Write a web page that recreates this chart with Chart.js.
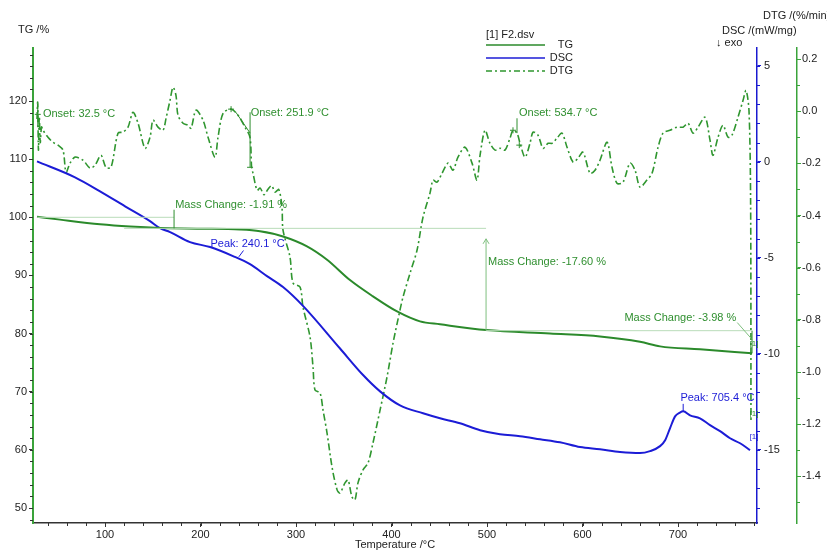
<!DOCTYPE html>
<html>
<head>
<meta charset="utf-8">
<script src="https://cdn.jsdelivr.net/npm/chart.js@4.4.1/dist/chart.umd.min.js"></script>
<style>
  html, body { margin: 0; padding: 0; background: #ffffff; }
  #wrap { width: 827px; height: 551px; }
</style>
</head>
<body>
<div id="wrap"><canvas id="c" width="827" height="551"></canvas></div>
<script>
// ---- Thermal analysis of sample F2 (TG / DSC / DTG against temperature) ----

// TG: mass in %
const tgTemp = [28.8, 52.9, 94.8, 126.2, 157.6, 199.5, 241.4, 262.3, 286.4, 311.5, 332.5, 356.5, 380.6, 405.8, 429.8, 450.8, 499.0, 566.0, 618.3, 660.2, 681.2, 723.0, 777.5];
const tgMass = [100.1, 99.6, 98.8, 98.4, 98.15, 98.05, 97.9, 97.6, 96.7, 95.0, 92.7, 89.2, 86.4, 83.8, 82.1, 81.6, 80.6, 80.0, 79.5, 78.6, 77.8, 77.3, 76.6];

// DSC: heat flow in mW/mg
const dscTemp = [28.8, 68.6, 94.8, 121.0, 147.1, 157.6, 168.1, 189.0, 210.0, 234.0, 251.8, 269.6, 286.4, 307.3, 346.1, 370.2, 388.0, 408.9, 433.0, 450.8, 471.7, 492.7, 513.6, 534.6, 555.5, 576.4, 597.4, 618.3, 639.3, 660.2, 670.7, 681.2, 686.5, 691.6, 696.9, 702.0, 705.4, 712.6, 723.0, 733.5, 744.0, 754.5, 765.0, 775.4];
const dscFlow = [0.02, -0.81, -1.54, -2.32, -3.09, -3.46, -3.66, -4.18, -4.44, -4.91, -5.33, -5.95, -6.52, -7.50, -9.72, -11.10, -11.95, -12.68, -13.09, -13.35, -13.61, -13.97, -14.18, -14.28, -14.44, -14.60, -14.85, -14.96, -15.10, -15.16, -15.06, -14.80, -14.49, -13.87, -13.25, -13.05, -12.99, -13.20, -13.35, -13.71, -14.02, -14.39, -14.65, -15.01];

// DTG: mass-loss rate in %/min
const dtgTemp = [28.8, 29.5, 30.3, 31.2, 32.2, 33.5, 35.1, 40.3, 45.5, 50.8, 56.0, 59.2, 63.4, 68.6, 77.0, 84.3, 89.5, 95.8, 101.0, 106.3, 113.6, 118.8, 124.1, 129.3, 134.6, 141.9, 147.1, 150.3, 155.5, 160.7, 163.9, 168.1, 171.2, 174.3, 176.4, 181.7, 186.9, 190.1, 195.3, 202.6, 207.9, 215.2, 218.3, 223.6, 231.9, 239.3, 246.6, 251.8, 253.5, 255.0, 259.2, 262.5, 266.5, 270.5, 274.5, 278.0, 282.0, 285.3, 286.4, 293.7, 296.9, 304.2, 307.3, 314.7, 317.8, 319.9, 325.1, 328.3, 332.5, 337.7, 343.0, 346.1, 351.3, 354.5, 358.6, 361.8, 364.9, 370.2, 375.4, 380.6, 388.0, 395.3, 401.6, 408.9, 412.0, 419.4, 426.7, 433.0, 440.3, 443.5, 447.6, 452.9, 459.2, 464.4, 469.6, 477.0, 484.3, 489.5, 492.7, 497.9, 503.1, 508.4, 513.6, 518.8, 524.1, 527.2, 531.4, 534.6, 539.8, 545.0, 548.2, 553.4, 558.7, 563.9, 568.1, 573.3, 578.5, 583.8, 590.1, 595.3, 600.5, 607.9, 613.1, 618.3, 625.7, 630.9, 636.1, 642.4, 649.7, 655.0, 660.2, 667.5, 672.8, 679.1, 684.3, 691.6, 699.0, 705.3, 710.5, 715.7, 721.0, 728.3, 733.5, 736.6, 741.9, 747.1, 752.4, 756.5, 762.8, 768.1, 771.2, 774.3, 776.0, 776.4];
const dtgRate = [-0.03, 0.034, -0.149, -0.02, -0.12, -0.06, -0.073, -0.100, -0.119, -0.130, -0.149, -0.234, -0.199, -0.176, -0.188, -0.218, -0.207, -0.169, -0.215, -0.215, -0.084, -0.080, -0.061, -0.004, -0.046, -0.142, -0.100, -0.034, -0.061, -0.073, -0.027, 0.042, 0.092, 0.061, -0.015, -0.046, -0.054, -0.065, 0.004, -0.034, -0.100, -0.176, -0.100, -0.008, 0.008, -0.015, -0.061, -0.100, -0.215, -0.238, -0.303, -0.295, -0.320, -0.300, -0.285, -0.310, -0.300, -0.368, -0.456, -0.559, -0.659, -0.674, -0.751, -0.866, -0.981, -1.069, -1.080, -1.146, -1.234, -1.364, -1.452, -1.464, -1.425, -1.414, -1.479, -1.490, -1.425, -1.375, -1.349, -1.272, -1.146, -1.019, -0.889, -0.762, -0.713, -0.621, -0.533, -0.406, -0.314, -0.264, -0.272, -0.238, -0.199, -0.226, -0.176, -0.138, -0.199, -0.264, -0.169, -0.073, -0.123, -0.149, -0.142, -0.149, -0.103, -0.073, -0.084, -0.123, -0.176, -0.123, -0.080, -0.092, -0.142, -0.123, -0.123, -0.103, -0.084, -0.138, -0.195, -0.180, -0.157, -0.238, -0.226, -0.188, -0.119, -0.215, -0.276, -0.272, -0.199, -0.226, -0.291, -0.264, -0.238, -0.138, -0.084, -0.073, -0.061, -0.061, -0.046, -0.084, -0.061, -0.023, -0.111, -0.169, -0.100, -0.054, -0.100, -0.092, -0.023, 0.042, 0.080, 0.004, -0.341, -1.192];

// Axis tick labels
const tempTicks = [100, 200, 300, 400, 500, 600, 700];
const tgTicks = [50, 60, 70, 80, 90, 100, 110, 120];
const dscTicks = [5, 0, -5, -10, -15];
const dtgTicks = [0.2, 0.0, -0.2, -0.4, -0.6, -0.8, -1.0, -1.2, -1.4];

// Evaluated steps reported by the analysis software
const onsetTemps = [32.5, 251.9, 534.7];
const peakTemps = [240.1, 705.4];
const massChanges = [-1.91, -17.60, -3.98];

const FONT = '"Liberation Sans", Arial, Helvetica, sans-serif';
const TG_GREEN = '#2b8a2b';
const DTG_GREEN = '#2f962f';
const AX_GREEN = '#3aa33a';
const BLUE = '#1c1cd6';
const AX_BLUE = '#1a1ad0';
const NOTE_GREEN = '#2f8f2f';
const FAINT = '#b9dcb9';

const pts = (xs, ys) => xs.map((t, i) => ({ x: t, y: ys[i] }));

function fixTicks(values) {
  return s => { s.ticks = values.map(v => ({ value: v })); };
}

// minor tick marks between the labelled ones
function minorTicks(ctx, scale, step, len, color, side) {
  const lo = Math.ceil(scale.min / step - 1e-9);
  const hi = Math.floor(scale.max / step + 1e-9);
  ctx.strokeStyle = color;
  ctx.lineWidth = 1;
  ctx.beginPath();
  for (let k = lo; k <= hi; k++) {
    const p = Math.round(scale.getPixelForValue(k * step)) + 0.5;
    if (side === 'left') { ctx.moveTo(scale.right, p); ctx.lineTo(scale.right - len, p); }
    else if (side === 'right') { ctx.moveTo(scale.left, p); ctx.lineTo(scale.left + len, p); }
    else { ctx.moveTo(p, scale.top); ctx.lineTo(p, scale.top + len); }
  }
  ctx.stroke();
}

function plus(ctx, x, y, r) {
  ctx.beginPath();
  ctx.moveTo(x - r, y); ctx.lineTo(x + r, y);
  ctx.moveTo(x, y - r); ctx.lineTo(x, y + r);
  ctx.stroke();
}

function line(ctx, x1, y1, x2, y2) {
  ctx.beginPath(); ctx.moveTo(x1, y1); ctx.lineTo(x2, y2); ctx.stroke();
}

const decor = {
  id: 'decor',
  afterDraw(chart) {
    const { ctx } = chart;
    const { x, y, y1, y2 } = chart.scales;
    const X = t => x.getPixelForValue(t);
    const TG = v => y.getPixelForValue(v);
    const DSC = v => y1.getPixelForValue(v);
    const DTG = v => y2.getPixelForValue(v);
    ctx.save();

    // minor ticks
    minorTicks(ctx, x, 20, 3, '#333', 'bottom');
    minorTicks(ctx, y, 2, 3, '#333', 'left');
    minorTicks(ctx, y1, 1, 3, AX_BLUE, 'right');
    minorTicks(ctx, y2, 0.1, 3, AX_GREEN, 'right');

    // axis titles
    ctx.font = '11px ' + FONT;
    ctx.fillStyle = '#222';
    ctx.textBaseline = 'middle';
    ctx.textAlign = 'left';
    ctx.fillText('TG /%', 18, 30);
    ctx.fillText('DTG /(%/min)', 763, 16);
    ctx.fillText('DSC /(mW/mg)', 722, 31);
    ctx.fillText('\u2193 exo', 716, 43);
    ctx.textAlign = 'center';
    ctx.fillText('Temperature /\u00B0C', (x.left + x.right) / 2, 545);

    // legend
    ctx.textAlign = 'left';
    ctx.fillText('[1] F2.dsv', 486, 35);
    ctx.textAlign = 'right';
    const legend = [['TG', TG_GREEN, []], ['DSC', BLUE, []], ['DTG', DTG_GREEN, [6, 3, 2, 3]]];
    legend.forEach(([name, col, dash], i) => {
      const ly = 45 + i * 13;
      ctx.strokeStyle = col; ctx.lineWidth = 1.5; ctx.setLineDash(dash);
      line(ctx, 486, ly, 545, ly);
      ctx.setLineDash([]);
      ctx.fillStyle = '#222';
      ctx.fillText(name, 573, ly);
    });

    // faint reference levels of the mass steps
    ctx.strokeStyle = FAINT; ctx.lineWidth = 1;
    line(ctx, X(29), TG(100.0), X(172.3), TG(100.0));
    line(ctx, X(120), TG(98.1), X(499), TG(98.1));
    line(ctx, X(499), TG(80.5), X(777), TG(80.5));

    // mass change annotations
    ctx.fillStyle = NOTE_GREEN; ctx.strokeStyle = NOTE_GREEN; ctx.lineWidth = 1;
    ctx.textAlign = 'left';
    ctx.fillText('Mass Change: ' + massChanges[0].toFixed(2) + ' %', X(173.5), TG(102.2));
    line(ctx, X(172.3), TG(98.1), X(172.3), TG(101.3));

    ctx.strokeStyle = '#7fbf7f';
    line(ctx, X(499), TG(96.3), X(499), TG(80.5));
    ctx.beginPath();
    ctx.moveTo(X(499) - 3, TG(96.3) + 5); ctx.lineTo(X(499), TG(96.3)); ctx.lineTo(X(499) + 3, TG(96.3) + 5);
    ctx.stroke();
    ctx.fillText('Mass Change: ' + massChanges[1].toFixed(2) + ' %', X(501), TG(92.4));

    ctx.textAlign = 'right';
    ctx.fillText('Mass Change: ' + massChanges[2].toFixed(2) + ' %', X(761), TG(82.6));
    line(ctx, X(762), TG(81.9), X(777.5), TG(79.0));
    ctx.strokeStyle = NOTE_GREEN;
    line(ctx, X(777.5), TG(80.5), X(777.5), TG(76.6));

    // onset annotations on the DTG curve
    ctx.textAlign = 'left';
    ctx.strokeStyle = NOTE_GREEN; ctx.fillStyle = NOTE_GREEN;
    ctx.fillText('Onset: ' + onsetTemps[0].toFixed(1) + ' \u00B0C', X(35), DTG(-0.012));
    line(ctx, X(29.6), DTG(0.03), X(29.6), DTG(-0.06));
    plus(ctx, X(29.6), DTG(-0.012), 3);

    ctx.fillText('Onset: ' + onsetTemps[1].toFixed(1) + ' \u00B0C', X(252.5), DTG(-0.008));
    plus(ctx, X(232), DTG(0.008), 3);
    line(ctx, X(237), DTG(-0.004), X(252), DTG(-0.084));
    line(ctx, X(251.9), DTG(-0.004), X(251.9), DTG(-0.215));
    line(ctx, X(251.9) - 3, DTG(-0.215), X(251.9) + 3, DTG(-0.215));

    ctx.fillText('Onset: ' + onsetTemps[2].toFixed(1) + ' \u00B0C', X(533.5), DTG(-0.008));
    line(ctx, X(531.4), DTG(-0.027), X(531.4), DTG(-0.084));
    plus(ctx, X(527.2), DTG(-0.073), 3);
    plus(ctx, X(533.8), DTG(-0.13), 3);

    // DSC peak annotations
    ctx.fillStyle = BLUE; ctx.strokeStyle = BLUE;
    ctx.fillText('Peak: ' + peakTemps[0].toFixed(1) + ' \u00B0C', X(210.5), DSC(-4.3));
    line(ctx, X(240.1), DSC(-4.95), X(245), DSC(-4.62));
    ctx.fillText('Peak: ' + peakTemps[1].toFixed(1) + ' \u00B0C', X(702.5), DSC(-12.3));
    line(ctx, X(705.4), DSC(-12.6), X(705.4), DSC(-12.99));

    // curve tags at the end of each trace
    ctx.font = '8px ' + FONT;
    ctx.fillStyle = NOTE_GREEN;
    ctx.fillText('[1]', X(775), TG(78.2));
    ctx.fillText('[1]', X(775), DTG(-1.16));
    ctx.fillStyle = BLUE;
    ctx.fillText('[1]', X(775), DSC(-14.3));

    ctx.restore();
  }
};

new Chart(document.getElementById('c'), {
  type: 'line',
  data: {
    datasets: [
      { label: 'TG', data: pts(tgTemp, tgMass), yAxisID: 'y', borderColor: TG_GREEN, borderWidth: 2, pointRadius: 0, cubicInterpolationMode: 'monotone', fill: false },
      { label: 'DSC', data: pts(dscTemp, dscFlow), yAxisID: 'y1', borderColor: BLUE, borderWidth: 2, pointRadius: 0, cubicInterpolationMode: 'monotone', fill: false },
      { label: 'DTG', data: pts(dtgTemp, dtgRate), yAxisID: 'y2', borderColor: DTG_GREEN, borderWidth: 1.6, borderDash: [7, 3, 2, 3], pointRadius: 0, tension: 0.3, fill: false }
    ]
  },
  options: {
    responsive: false,
    animation: false,
    devicePixelRatio: 1,
    layout: { padding: { top: 48, left: 0, right: 0, bottom: 0 } },
    plugins: { legend: { display: false }, title: { display: false }, tooltip: { enabled: false } },
    scales: {
      x: {
        type: 'linear', position: 'bottom', min: 24.6, max: 782.7,
        afterBuildTicks: fixTicks(tempTicks),
        afterFit: s => { s.height = 28; },
        border: { color: '#333', width: 1.5 },
        grid: { drawOnChartArea: false, drawTicks: true, tickLength: 4, tickColor: '#333' },
        ticks: { color: '#222', font: { size: 11, family: FONT }, padding: 1, maxRotation: 0, callback: v => String(v) }
      },
      y: {
        type: 'linear', position: 'left', min: 47.42, max: 129.12,
        afterBuildTicks: fixTicks(tgTicks),
        afterFit: s => { s.width = 33; },
        border: { color: AX_GREEN, width: 2 },
        grid: { drawOnChartArea: false, drawTicks: true, tickLength: 4, tickColor: '#333' },
        ticks: { color: '#222', font: { size: 11, family: FONT }, padding: 2, callback: v => String(v) }
      },
      y1: {
        type: 'linear', position: 'right', weight: 0, min: -18.80, max: 5.92,
        afterBuildTicks: fixTicks(dscTicks),
        afterFit: s => { s.width = 40; },
        border: { color: AX_BLUE, width: 1.5 },
        grid: { drawOnChartArea: false, drawTicks: true, tickLength: 4, tickColor: AX_BLUE },
        ticks: { color: '#222', font: { size: 11, family: FONT }, padding: 3, callback: v => String(v) }
      },
      y2: {
        type: 'linear', position: 'right', weight: 1, min: -1.579, max: 0.2425,
        afterBuildTicks: fixTicks(dtgTicks),
        afterFit: s => { s.width = 30; },
        border: { color: AX_GREEN, width: 1.5 },
        grid: { drawOnChartArea: false, drawTicks: true, tickLength: 4, tickColor: AX_GREEN },
        ticks: { color: '#222', font: { size: 11, family: FONT }, padding: 1, callback: v => v.toFixed(1) }
      }
    }
  },
  plugins: [decor]
});
</script>
</body>
</html>
